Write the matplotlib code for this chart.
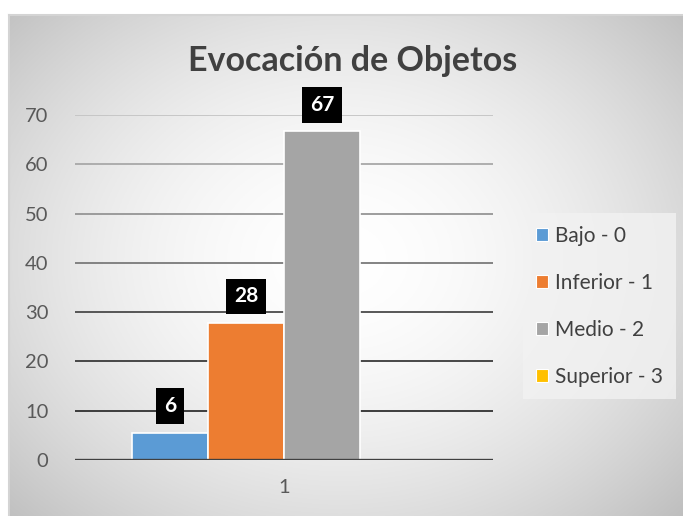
import numpy as np
import matplotlib
matplotlib.use("Agg")
import matplotlib.pyplot as plt
from matplotlib.patches import Patch

plt.rcParams['font.family'] = ['Lato', 'DejaVu Sans']

categories = ["1"]
series = ["Bajo - 0", "Inferior - 1", "Medio - 2", "Superior - 3"]
values = [5.56, 27.78, 66.67, 0.0]
labels = ["6", "28", "67", ""]
colors = ["#5b9bd5", "#ed7d31", "#a5a5a5", "#ffc000"]
yticks = [0, 10, 20, 30, 40, 50, 60, 70]
grid_colors = ["#404040", "#303030", "#3a3a3a", "#4a4a4a", "#7a7a7a", "#959595", "#a8a8a8", "#c4c4c4"]

W, H = 683, 516
fig = plt.figure(figsize=(W / 100, H / 100), dpi=100)
fig.patch.set_facecolor("white")

# chart area background (radial gradient)
cx0, cy0, cx1, cy1 = 9, 15, 683, 516
bg = fig.add_axes([cx0 / W, 1 - cy1 / H, (cx1 - cx0) / W, (cy1 - cy0) / H], zorder=-10)
xx, yy = np.meshgrid(np.linspace(cx0, cx1, 400), np.linspace(cy0, cy1, 400))
r = np.sqrt(((xx - 340) / 400) ** 2 + ((yy - 260) / 320) ** 2)
g = np.clip(1 - 0.19 * r ** 1.8, 0, 1)
bg.imshow(np.dstack([g, g, g]), extent=[0, 1, 0, 1], aspect="auto", origin="upper")
bg.set_xticks([]); bg.set_yticks([])
for s in bg.spines.values():
    s.set_visible(False)
bg.plot([0, 1], [1, 1], color="#d4d4d4", lw=1.5, transform=bg.transAxes, clip_on=False)
bg.plot([0, 0], [0, 1], color="#d4d4d4", lw=1.5, transform=bg.transAxes, clip_on=False)

# plot area
L, R, T, B = 75, 493, 115, 460
ax = fig.add_axes([L / W, 1 - B / H, (R - L) / W, (B - T) / H])
ax.set_facecolor("none")
ax.set_xlim(-0.5, 0.5)
ax.set_ylim(0, 70)

for yv, c in zip(yticks[1:], grid_colors[1:]):
    ax.axhline(yv, color=c, lw=1.3, zorder=1)
ax.axhline(0, color="#404040", lw=2.4, zorder=4)

w = 76 / 418
for i, (v, lab, c) in enumerate(zip(values, labels, colors)):
    x = (i - 1.5) * w
    ax.bar(x, v, width=w, color=c, edgecolor="white", linewidth=1.2, zorder=3)
    if lab:
        ax.annotate(lab, (x, v), xytext=(0, 12), textcoords="offset points",
                    ha="center", va="bottom", color="white", fontsize=15, fontweight="bold",
                    bbox=dict(boxstyle="square,pad=0.38", fc="black", ec="none"), zorder=5)

ax.set_yticks(yticks)
ax.set_yticklabels([str(t) for t in yticks], fontsize=14.5, color="#595959")
ax.set_xticks([0])
ax.set_xticklabels(categories, fontsize=14.5, color="#595959")
ax.tick_params(axis="both", length=0)
ax.tick_params(axis="y", pad=19)
ax.tick_params(axis="x", pad=14)
for s in ax.spines.values():
    s.set_visible(False)

fig.text(353 / W, 1 - 61 / H, "Evocación de Objetos", ha="center", va="center",
         fontsize=24.5, fontweight="bold", color="#404040")

handles = [Patch(facecolor=c, edgecolor="white", linewidth=0.8) for c in colors]
leg = fig.legend(handles, series, loc="upper left",
                 bbox_to_anchor=(523 / W, 1 - 213 / H), frameon=True,
                 fontsize=15, labelcolor="#404040", handlelength=0.6, handleheight=0.6,
                 handletextpad=0.35, labelspacing=1.3, borderpad=0.6, borderaxespad=0,
                 fancybox=False)
leg.get_frame().set_facecolor("#f2f2f2")
leg.get_frame().set_edgecolor("none")

fig.savefig("out.png", dpi=100, facecolor="white")
